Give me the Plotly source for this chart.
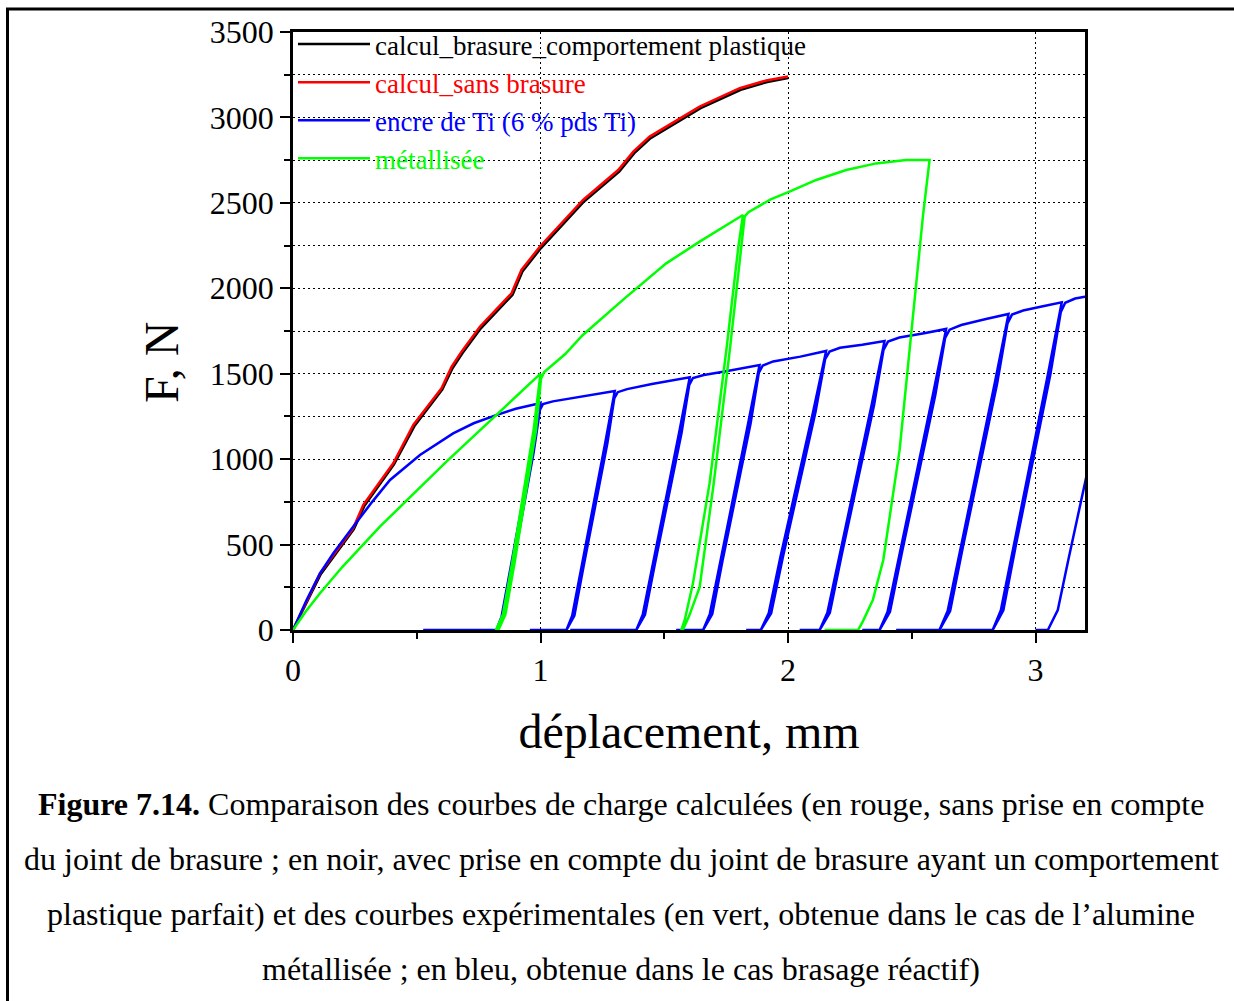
import plotly.graph_objects as go

# ---------------- data ----------------
red_x = [0, 0.109, 0.243, 0.284, 0.405, 0.486, 0.600, 0.641, 0.681, 0.755, 0.883, 0.923,
         0.997, 1.172, 1.314, 1.375, 1.441, 1.562, 1.643, 1.805, 1.912, 2.0]
red_y = [0, 332, 595, 732, 976, 1200, 1415, 1541, 1629, 1775, 1971, 2107,
         2243, 2517, 2692, 2800, 2888, 2995, 3063, 3171, 3216, 3239]

black_x = [0, 0.112, 0.246, 0.288, 0.408, 0.490, 0.603, 0.645, 0.685, 0.759, 0.887, 0.927,
           1.001, 1.176, 1.318, 1.379, 1.445, 1.566, 1.647, 1.809, 1.916, 2.0]
black_y = [0, 326, 590, 725, 969, 1192, 1407, 1533, 1621, 1766, 1962, 2098,
           2234, 2508, 2683, 2791, 2879, 2986, 3054, 3162, 3207, 3231]

blue_x = [0, 0.055, 0.109, 0.163, 0.243, 0.32, 0.392, 0.513, 0.647, 0.73, 0.821, 0.90, 0.984, 1.000,
          # cycle 1
          0.964, 0.875, 0.843, 0.822, 0.526, 0.822, 0.851, 0.884, 0.972, 0.998, 1.010,
          1.05, 1.159, 1.25, 1.300,
          # cycle 2
          1.261, 1.164, 1.128, 1.105, 0.957, 1.105, 1.137, 1.173, 1.270, 1.298, 1.312,
          1.35, 1.45, 1.55, 1.603,
          # cycle 3
          1.560, 1.452, 1.413, 1.387, 1.12, 1.387, 1.422, 1.462, 1.570, 1.601, 1.616,
          1.66, 1.75, 1.885,
          # cycle 4
          1.839, 1.725, 1.684, 1.657, 1.548, 1.657, 1.694, 1.735, 1.849, 1.882, 1.898,
          1.94, 2.05, 2.154,
          # cycle 5
          2.101, 1.969, 1.922, 1.890, 1.831, 1.890, 1.932, 1.979, 2.111, 2.150, 2.168,
          2.21, 2.30, 2.390,
          # cycle 6
          2.338, 2.207, 2.159, 2.128, 2.047, 2.128, 2.169, 2.217, 2.348, 2.386, 2.404,
          2.45, 2.55, 2.639,
          # cycle 7
          2.585, 2.451, 2.402, 2.370, 2.300, 2.370, 2.412, 2.461, 2.595, 2.635, 2.653,
          2.70, 2.80, 2.891,
          # cycle 8
          2.835, 2.696, 2.645, 2.612, 2.437, 2.612, 2.655, 2.706, 2.845, 2.887, 2.905,
          2.95, 3.03, 3.106,
          # cycle 9
          3.050, 2.911, 2.860, 2.827, 2.620, 2.827, 2.870, 2.921, 3.060, 3.102, 3.120,
          3.16, 3.20, 3.33,
          # last unloading
          3.300, 3.204, 3.134, 3.090, 3.050, 3.000]
blue_y = [0, 176, 332, 449, 605, 750, 878, 1024, 1151, 1210, 1258, 1295, 1323, 1330,
          1037, 346, 80, 0, 0, 0, 80, 346, 1037, 1290, 1322,
          1338, 1366, 1385, 1399,
          1091, 364, 84, 0, 0, 0, 84, 364, 1091, 1355, 1392,
          1410, 1440, 1465, 1479,
          1154, 385, 89, 0, 0, 0, 89, 385, 1154, 1435, 1475,
          1492, 1515, 1551,
          1210, 403, 93, 0, 0, 0, 93, 403, 1210, 1505, 1548,
          1572, 1600, 1633,
          1274, 425, 98, 0, 0, 0, 98, 425, 1274, 1585, 1630,
          1652, 1670, 1691,
          1319, 440, 101, 0, 0, 0, 101, 440, 1319, 1640, 1688,
          1712, 1737, 1762,
          1374, 458, 106, 0, 0, 0, 106, 458, 1374, 1710, 1758,
          1785, 1820, 1850,
          1443, 481, 111, 0, 0, 0, 111, 481, 1443, 1795, 1846,
          1870, 1895, 1918,
          1496, 499, 115, 0, 0, 0, 115, 499, 1496, 1860, 1915,
          1940, 1951, 1985,
          1700, 888, 420, 117, 0, 0]

green_x = [0, 0.05, 0.109, 0.2, 0.351, 0.5, 0.62, 0.821, 1.0,
           0.972, 0.885, 0.848, 0.820, 0.830, 0.858, 0.895, 0.982, 1.002, 1.015,
           1.1, 1.17, 1.34, 1.508, 1.643, 1.818,
           1.800, 1.751, 1.683, 1.616, 1.583, 1.569, 1.575, 1.600, 1.643, 1.700, 1.765, 1.810, 1.825, 1.840,
           1.93, 2.006, 2.114, 2.235, 2.356, 2.477, 2.572,
           2.545, 2.505, 2.451, 2.385, 2.343, 2.302, 2.283, 2.148]
green_y = [0, 105, 215, 370, 605, 815, 985, 1258, 1500,
           1170, 390, 90, 0, 0, 90, 390, 1170, 1470, 1510,
           1615, 1725, 1941, 2146, 2273, 2429,
           2250, 1639, 858, 273, 60, 0, 0, 80, 250, 860, 1640, 2250, 2420, 2445,
           2520, 2566, 2634, 2692, 2731, 2751, 2751,
           2419, 1834, 1054, 410, 176, 49, 0, 0]

series_names = ["calcul_brasure_comportement plastique", "calcul_sans brasure",
                "encre de Ti (6 % pds Ti)", "métallisée"]
series_colors = ["#000000", "#FF0000", "#0000FF", "#00FF00"]

x_ticks = [0, 1, 2, 3]
y_ticks = [0, 500, 1000, 1500, 2000, 2500, 3000, 3500]

x_title = "déplacement, mm"
y_title = "F, N"

caption_lines = [
    "<b>Figure 7.14.</b> Comparaison des courbes de charge calculées (en rouge, sans prise en compte",
    "du joint de brasure ; en noir, avec prise en compte du joint de brasure ayant un comportement",
    "plastique parfait) et des courbes expérimentales (en vert, obtenue dans le cas de l’alumine",
    "métallisée ; en bleu, obtenue dans le cas brasage réactif)",
]

FONT = "Liberation Serif"

# ---------------- figure ----------------
fig = go.Figure()
data_sets = [(black_x, black_y), (red_x, red_y), (blue_x, blue_y), (green_x, green_y)]
for (xs, ys), name, col in zip(data_sets, series_names, series_colors):
    fig.add_trace(go.Scatter(
        x=xs, y=ys, mode="lines", line=dict(color=col, width=2.5),
        name=f'<span style="color:{col}">{name}</span>',
    ))

W, H = 1234, 1001
L, R, T, B = 293, 149, 32, 371
pw, ph = W - L - R, H - T - B

def px_to_paper_x(px):
    return (px - L) / pw

def px_to_paper_y(py):
    return (H - B - py) / ph

axis_common = dict(
    showline=True, linecolor="black", linewidth=2.5, mirror=True,
    ticks="outside", ticklen=10, tickwidth=2, tickcolor="black",
    tickfont=dict(family=FONT, size=32, color="black"),
    zeroline=False, showgrid=True, gridcolor="black", gridwidth=1,
    griddash="2px,3px",
)

fig.update_xaxes(
    range=[0, 3.2], tickvals=x_ticks, ticktext=[str(v) for v in x_ticks],
    minor=dict(dtick=0.5, tick0=0, ticks="outside", ticklen=6, tickwidth=2,
               tickcolor="black", showgrid=False),
    title=dict(text=x_title, font=dict(family=FONT, size=48, color="black"),
               standoff=28),
    **axis_common,
)
fig.update_yaxes(
    range=[0, 3500], tickvals=y_ticks, ticktext=[str(v) for v in y_ticks],
    minor=dict(dtick=250, tick0=0, ticks="outside", ticklen=6, tickwidth=2,
               tickcolor="black", showgrid=True, gridcolor="black", gridwidth=1,
               griddash="2px,3px"),
    **axis_common,
)

annotations = [dict(
    text=y_title, xref="paper", yref="paper", textangle=-90,
    x=px_to_paper_x(161), y=px_to_paper_y(362),
    xanchor="center", yanchor="middle", showarrow=False,
    font=dict(family=FONT, size=48, color="black"),
)]
for i, line in enumerate(caption_lines):
    annotations.append(dict(
        text=line, xref="paper", yref="paper",
        x=px_to_paper_x(621), y=px_to_paper_y(804 + 55 * i),
        xanchor="center", yanchor="middle", showarrow=False,
        font=dict(family=FONT, size=32, color="black"),
    ))

shapes = [dict(
    type="rect", xref="paper", yref="paper", layer="above",
    x0=px_to_paper_x(7.5), x1=px_to_paper_x(1300),
    y0=px_to_paper_y(1100), y1=px_to_paper_y(9),
    line=dict(color="black", width=3), fillcolor="rgba(0,0,0,0)",
)]

fig.update_layout(
    width=W, height=H, autosize=False,
    margin=dict(l=L, r=R, t=T, b=B, pad=0),
    paper_bgcolor="white", plot_bgcolor="white",
    font=dict(family=FONT, color="black"),
    showlegend=True,
    legend=dict(x=0, y=px_to_paper_y(20), xanchor="left", yanchor="top",
                bgcolor="rgba(0,0,0,0)", borderwidth=0,
                font=dict(family=FONT, size=27, color="black"),
                itemwidth=72, tracegroupgap=0),
    annotations=annotations, shapes=shapes,
)

fig.write_html("out.html", config={"displayModeBar": False},
               post_script="document.body.style.margin='0';")
